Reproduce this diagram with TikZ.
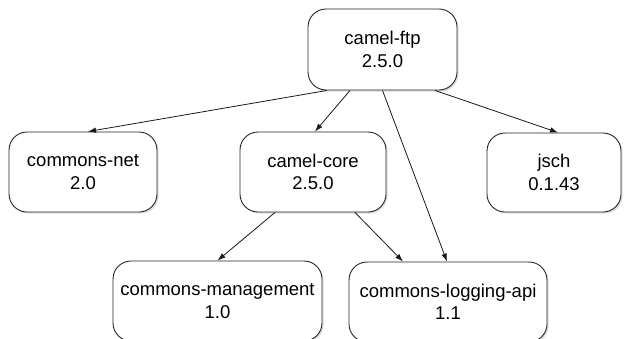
\documentclass[tikz,border=0pt]{standalone}
\usepackage{fontspec}
\setmainfont{Liberation Sans}
\usetikzlibrary{arrows.meta,shadows}
\begin{document}
\begin{tikzpicture}[x=1pt,y=-1pt,
  box/.style={draw=black!85, line width=0.9pt, rounded corners=18pt, fill=white,
    align=center, inner sep=0pt, font=\fontsize{18.5}{22.5}\selectfont,
    drop shadow={shadow xshift=1.6pt, shadow yshift=-1.6pt, fill=black!22, opacity=0.6}},
  arr/.style={draw=black!90, line width=0.8pt, -{Latex[length=8pt,width=5.5pt]}}]
\useasboundingbox (0,0) rectangle (624,338);
\node[box, minimum width=149pt, minimum height=81pt] (ftp) at (382.5,49.5) {camel-ftp\\2.5.0};
\node[box, minimum width=148pt, minimum height=80pt] (net) at (83,172) {commons-net\\2.0};
\node[box, minimum width=146pt, minimum height=80pt] (core) at (313,172) {camel-core\\2.5.0};
\node[box, minimum width=134pt, minimum height=79pt] (jsch) at (554,172.5) {jsch\\0.1.43};
\node[box, minimum width=209pt, minimum height=80pt] (mgmt) at (217.5,301) {commons-management\\1.0};
\node[box, minimum width=198pt, minimum height=80pt] (log) at (448,302) {commons-logging-api\\1.1};
\draw[arr] ([xshift=-55.5pt]ftp.south) -- ([xshift=5pt]net.north);
\draw[arr] ([xshift=-32.5pt]ftp.south) -- ([xshift=2pt]core.north);
\draw[arr] (ftp.south) -- ([xshift=-1pt]log.north);
\draw[arr] ([xshift=52.5pt]ftp.south) -- ([xshift=4pt]jsch.north);
\draw[arr] ([xshift=-38pt]core.south) -- (mgmt.north);
\draw[arr] ([xshift=42pt]core.south) -- ([xshift=-45pt]log.north);
\end{tikzpicture}
\end{document}
